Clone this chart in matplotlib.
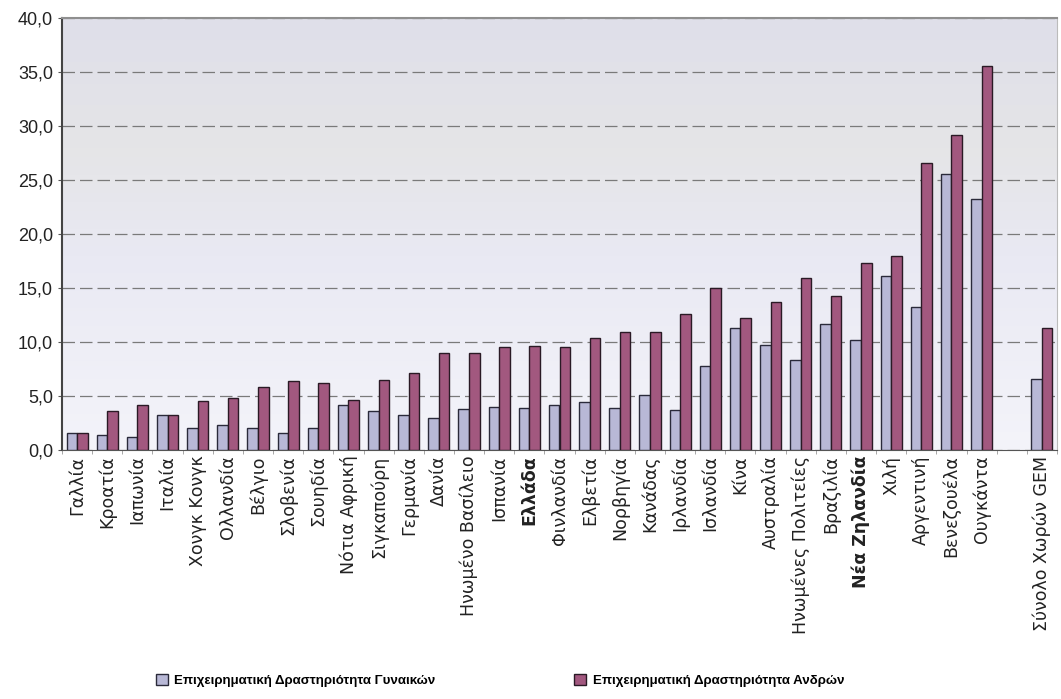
import numpy as np
import matplotlib
matplotlib.use("Agg")
import matplotlib.pyplot as plt
from matplotlib.colors import LinearSegmentedColormap

countries = ["Γαλλία", "Κροατία", "Ιαπωνία", "Ιταλία", "Χονγκ Κονγκ", "Ολλανδία", "Βέλγιο",
             "Σλοβενία", "Σουηδία", "Νότια Αφρική", "Σιγκαπούρη", "Γερμανία", "Δανία",
             "Ηνωμένο Βασίλειο", "Ισπανία", "Ελλάδα", "Φινλανδία", "Ελβετία", "Νορβηγία",
             "Κανάδας", "Ιρλανδία", "Ισλανδία", "Κίνα", "Αυστραλία", "Ηνωμένες Πολιτείες",
             "Βραζιλία", "Νέα Ζηλανδία", "Χιλή", "Αργεντινή", "Βενεζουέλα", "Ουγκάντα",
             "Σύνολο Χωρών GEM"]
women = [1.6, 1.4, 1.2, 3.2, 2.0, 2.3, 2.0, 1.6, 2.0, 4.2, 3.6, 3.2, 3.0, 3.8, 4.0, 3.9,
         4.2, 4.4, 3.9, 5.1, 3.7, 7.8, 11.3, 9.7, 8.3, 11.7, 10.2, 16.1, 13.2, 25.6, 23.2, 6.6]
men = [1.6, 3.6, 4.2, 3.2, 4.5, 4.8, 5.8, 6.4, 6.2, 4.6, 6.5, 7.1, 9.0, 9.0, 9.5, 9.6,
       9.5, 10.4, 10.9, 10.9, 12.6, 15.0, 12.2, 13.7, 15.9, 14.3, 17.3, 18.0, 26.6, 29.2, 35.6, 11.3]
bold_labels = ["Ελλάδα", "Νέα Ζηλανδία"]
legend_labels = ["Επιχειρηματική Δραστηριότητα Γυναικών", "Επιχειρηματική Δραστηριότητα Ανδρών"]
yticks = [0, 5, 10, 15, 20, 25, 30, 35, 40]

plt.rcParams['font.family'] = ['Liberation Sans', 'DejaVu Sans']

fig = plt.figure(figsize=(10.61, 6.99), dpi=100)
ax = fig.add_axes([62/1061, 1 - 450/699, (1057-62)/1061, (450-18)/699])

n = len(countries)
x = np.arange(n, dtype=float)
x[-1] += 1  # gap before GEM total

# background gradient (bottom -> top)
cmap = LinearSegmentedColormap.from_list(
    "bg", [(0.0, "#f4f4fa"), (0.45, "#e9e9f3"), (0.7, "#e5e5e7"), (1.0, "#dfdfea")])
grad = np.linspace(0, 1, 256).reshape(-1, 1)
ax.imshow(grad, aspect='auto', cmap=cmap, origin='lower',
          extent=[-0.5, x[-1] + 0.5, 0, 40], zorder=0)

w = 0.35
ax.bar(x - w/2, women, width=w, color="#b8b8d6", edgecolor="#2a2a3a", linewidth=1.0,
       label=legend_labels[0], zorder=3)
ax.bar(x + w/2, men, width=w, color="#a2587f", edgecolor="#2a1a25", linewidth=1.0,
       label=legend_labels[1], zorder=3)

ax.set_xlim(-0.5, x[-1] + 0.5)
ax.set_ylim(0, 40)
ax.set_yticks(yticks)
ax.set_yticklabels([f"{v:.1f}".replace(".", ",") for v in yticks], fontsize=13,
                   color="#222222")
ax.yaxis.grid(True, linestyle=(0, (10, 4)), color="#7a7a7a", linewidth=0.9, zorder=1)
ax.set_axisbelow(True)

ax.set_xticks(x)
ax.set_xticklabels(countries, rotation=90, fontsize=12.5, family=['DejaVu Sans'],
                   color="#222222")
for lbl in ax.get_xticklabels():
    if lbl.get_text() in bold_labels:
        lbl.set_fontweight('bold')
ax.tick_params(axis='x', which='major', length=0, pad=4)
ax.set_xticks(np.arange(-0.5, x[-1] + 0.6, 1.0), minor=True)
ax.tick_params(axis='x', which='minor', length=3, color="#999999")
ax.tick_params(axis='y', length=3, color="#555555")

ax.spines['top'].set_color("#8f8f8f")
ax.spines['top'].set_linewidth(1.5)
ax.spines['right'].set_color("#bbbbbb")
ax.spines['left'].set_color("#444444")
ax.spines['left'].set_linewidth(1.5)
ax.spines['bottom'].set_color("#555555")

fig.legend(loc='lower center', bbox_to_anchor=(500/1061, 0.0), ncol=2, frameon=False,
           handlelength=0.9, handleheight=0.9, columnspacing=10.5, handletextpad=0.5,
           prop={'weight': 'bold', 'size': 9.5})

fig.savefig("out.png", dpi=100)
